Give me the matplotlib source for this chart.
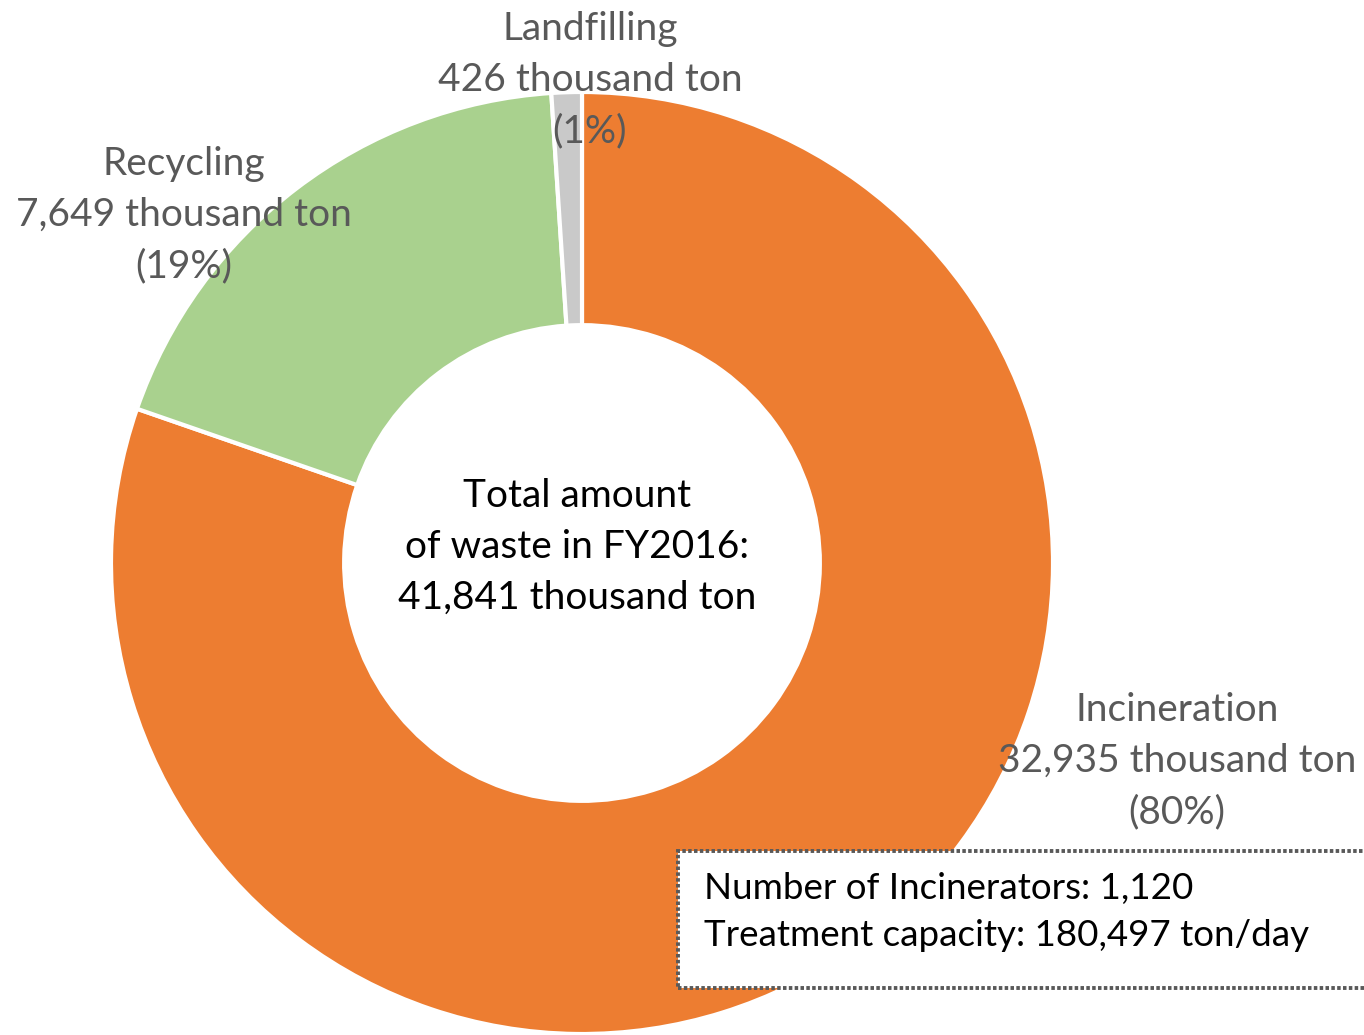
import matplotlib.pyplot as plt
from matplotlib.patches import Rectangle

# Waste treatment breakdown, FY2016 (thousand ton)
methods = ["Incineration", "Recycling", "Landfilling"]
amounts = [32935, 7649, 426]
shares = [80, 19, 1]
colors = ["#ED7D31", "#A9D18E", "#C9C9C9"]
total = 41841
incinerators = 1120
capacity = 180497

plt.rcParams['font.family'] = ['Lato', 'DejaVu Sans']

W, H = 1364, 1035
fig = plt.figure(figsize=(W / 100, H / 100), dpi=100)
ax = fig.add_axes([0, 0, 1, 1])

cx, cy, r = 582, H - 563, 471
ax.pie(amounts, colors=colors, startangle=90, counterclock=False,
       center=(cx, cy), radius=r, frame=True,
       wedgeprops=dict(width=r * 0.495, edgecolor='white', linewidth=3))
ax.set_xlim(0, W)
ax.set_ylim(0, H)
ax.set_aspect('equal')
ax.axis('off')

label_color = "#595959"
fs = 28
label_pos = {"Incineration": (1177, 761), "Recycling": (184, 215), "Landfilling": (590, 80)}
for m, a, s in zip(methods, amounts, shares):
    x, y = label_pos[m]
    ax.text(x, H - y, f"{m}\n{a:,} thousand ton\n({s}%)", ha='center', va='center',
            fontsize=fs, color=label_color, linespacing=1.52)

ax.text(577, H - 547, f"Total amount\nof waste in FY2016:\n{total:,} thousand ton",
        ha='center', va='center', fontsize=fs, color='black', linespacing=1.52)

# info box, runs off the right edge
box = Rectangle((678, H - 988), 720, 137, facecolor='white', edgecolor='#595959',
                linewidth=2.8, linestyle=(0, (0.9, 0.6)))
ax.add_patch(box)
ax.text(704, H - 912, f"Number of Incinerators: {incinerators:,}\nTreatment capacity: {capacity:,} ton/day",
        ha='left', va='center', fontsize=26.5, color='black', linespacing=1.5)

fig.savefig("out.png", dpi=100)
